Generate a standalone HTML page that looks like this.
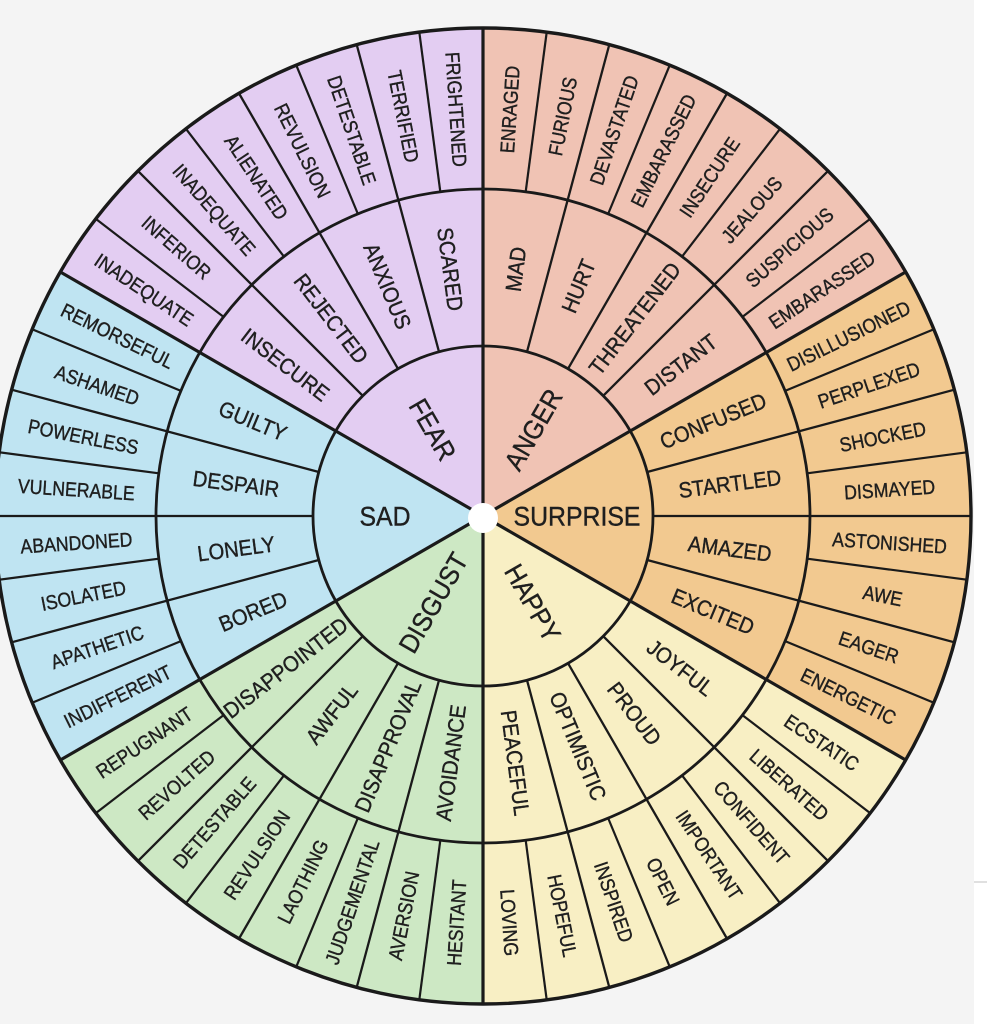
<!DOCTYPE html>
<html>
<head>
<meta charset="utf-8">
<style>
html,body{margin:0;padding:0;background:#f4f4f4;}
svg{display:block;}
text{font-family:"Liberation Sans",Arial,sans-serif;fill:#1f1f1f;stroke:#1f1f1f;stroke-width:0.4px;text-anchor:middle;}
.o{font-size:20px;}
.m{font-size:22px;}
.i{font-size:27px;}
</style>
</head>
<body>
<svg width="987" height="1024" viewBox="0 0 987 1024" xmlns="http://www.w3.org/2000/svg">
<rect width="987" height="1024" fill="#ffffff"/>
<rect width="974" height="1024" fill="#f4f4f4"/>
<line x1="974" y1="882" x2="987" y2="882" stroke="#e0e0e0" stroke-width="2"/>
<g transform="translate(483,516)">
  <path d="M0,0 L422.6,-244 A488,488 0 0 0 0,-488 Z" fill="#f0c3b4"/>
  <path d="M0,0 L0,-488 A488,488 0 0 0 -422.6,-244 Z" fill="#e3cdf2"/>
  <path d="M0,0 L-422.6,-244 A488,488 0 0 0 -422.6,244 Z" fill="#bfe4f2"/>
  <path d="M0,0 L-422.6,244 A488,488 0 0 0 0,488 Z" fill="#cde8c4"/>
  <path d="M0,0 L0,488 A488,488 0 0 0 422.6,244 Z" fill="#f8efc4"/>
  <path d="M0,0 L422.6,244 A488,488 0 0 0 422.6,-244 Z" fill="#f2c990"/>

  <g fill="none" stroke="#1a1a1a">
    <circle r="170" stroke-width="2.8"/>
    <circle r="327" stroke-width="2.8"/>
    <circle r="488" stroke-width="3.4"/>
  </g>

  <g stroke="#1a1a1a" stroke-width="3.2">
    <line x1="0" y1="0" x2="488" y2="0" transform="rotate(-30)"/>
    <line x1="0" y1="0" x2="488" y2="0" transform="rotate(-90)"/>
    <line x1="0" y1="0" x2="488" y2="0" transform="rotate(-150)"/>
    <line x1="0" y1="0" x2="488" y2="0" transform="rotate(-210)"/>
    <line x1="0" y1="0" x2="488" y2="0" transform="rotate(-270)"/>
    <line x1="0" y1="0" x2="488" y2="0" transform="rotate(-330)"/>
  </g>

  <g stroke="#1a1a1a" stroke-width="2.3">
    <line x1="170" y1="0" x2="488" y2="0" transform="rotate(-45)"/>
    <line x1="170" y1="0" x2="488" y2="0" transform="rotate(-60)"/>
    <line x1="170" y1="0" x2="488" y2="0" transform="rotate(-75)"/>
    <line x1="170" y1="0" x2="488" y2="0" transform="rotate(-105)"/>
    <line x1="170" y1="0" x2="488" y2="0" transform="rotate(-120)"/>
    <line x1="170" y1="0" x2="488" y2="0" transform="rotate(-135)"/>
    <line x1="170" y1="0" x2="488" y2="0" transform="rotate(-165)"/>
    <line x1="170" y1="0" x2="488" y2="0" transform="rotate(-180)"/>
    <line x1="170" y1="0" x2="488" y2="0" transform="rotate(-195)"/>
    <line x1="170" y1="0" x2="488" y2="0" transform="rotate(-225)"/>
    <line x1="170" y1="0" x2="488" y2="0" transform="rotate(-240)"/>
    <line x1="170" y1="0" x2="488" y2="0" transform="rotate(-255)"/>
    <line x1="170" y1="0" x2="488" y2="0" transform="rotate(-285)"/>
    <line x1="170" y1="0" x2="488" y2="0" transform="rotate(-300)"/>
    <line x1="170" y1="0" x2="488" y2="0" transform="rotate(-315)"/>
    <line x1="170" y1="0" x2="488" y2="0" transform="rotate(-345)"/>
    <line x1="170" y1="0" x2="488" y2="0" transform="rotate(0)"/>
    <line x1="170" y1="0" x2="488" y2="0" transform="rotate(-15)"/>
  </g>

  <g stroke="#1a1a1a" stroke-width="2.2">
    <line x1="327" y1="0" x2="488" y2="0" transform="rotate(-7.5)"/>
    <line x1="327" y1="0" x2="488" y2="0" transform="rotate(-22.5)"/>
    <line x1="327" y1="0" x2="488" y2="0" transform="rotate(-37.5)"/>
    <line x1="327" y1="0" x2="488" y2="0" transform="rotate(-52.5)"/>
    <line x1="327" y1="0" x2="488" y2="0" transform="rotate(-67.5)"/>
    <line x1="327" y1="0" x2="488" y2="0" transform="rotate(-82.5)"/>
    <line x1="327" y1="0" x2="488" y2="0" transform="rotate(-97.5)"/>
    <line x1="327" y1="0" x2="488" y2="0" transform="rotate(-112.5)"/>
    <line x1="327" y1="0" x2="488" y2="0" transform="rotate(-127.5)"/>
    <line x1="327" y1="0" x2="488" y2="0" transform="rotate(-142.5)"/>
    <line x1="327" y1="0" x2="488" y2="0" transform="rotate(-157.5)"/>
    <line x1="327" y1="0" x2="488" y2="0" transform="rotate(-172.5)"/>
    <line x1="327" y1="0" x2="488" y2="0" transform="rotate(-187.5)"/>
    <line x1="327" y1="0" x2="488" y2="0" transform="rotate(-202.5)"/>
    <line x1="327" y1="0" x2="488" y2="0" transform="rotate(-217.5)"/>
    <line x1="327" y1="0" x2="488" y2="0" transform="rotate(-232.5)"/>
    <line x1="327" y1="0" x2="488" y2="0" transform="rotate(-247.5)"/>
    <line x1="327" y1="0" x2="488" y2="0" transform="rotate(-262.5)"/>
    <line x1="327" y1="0" x2="488" y2="0" transform="rotate(-277.5)"/>
    <line x1="327" y1="0" x2="488" y2="0" transform="rotate(-292.5)"/>
    <line x1="327" y1="0" x2="488" y2="0" transform="rotate(-307.5)"/>
    <line x1="327" y1="0" x2="488" y2="0" transform="rotate(-322.5)"/>
    <line x1="327" y1="0" x2="488" y2="0" transform="rotate(-337.5)"/>
    <line x1="327" y1="0" x2="488" y2="0" transform="rotate(-352.5)"/>
  </g>

  <text class="o" dy="0.36em" transform="rotate(-33.75) translate(407.5,0) scale(0.885,1)">EMBARASSED</text>
  <text class="o" dy="0.36em" transform="rotate(-41.25) translate(407.5,0) scale(0.885,1)">SUSPICIOUS</text>
  <text class="o" dy="0.36em" transform="rotate(-48.75) translate(407.5,0) scale(0.885,1)">JEALOUS</text>
  <text class="o" dy="0.36em" transform="rotate(-56.25) translate(407.5,0) scale(0.885,1)">INSECURE</text>
  <text class="o" dy="0.36em" transform="rotate(-63.75) translate(407.5,0) scale(0.885,1)">EMBARASSED</text>
  <text class="o" dy="0.36em" transform="rotate(-71.25) translate(407.5,0) scale(0.885,1)">DEVASTATED</text>
  <text class="o" dy="0.36em" transform="rotate(-78.75) translate(407.5,0) scale(0.885,1)">FURIOUS</text>
  <text class="o" dy="0.36em" transform="rotate(-86.25) translate(407.5,0) scale(0.885,1)">ENRAGED</text>
  <text class="o" dy="0.36em" transform="rotate(-93.75) translate(407.5,0) rotate(180) scale(0.885,1)">FRIGHTENED</text>
  <text class="o" dy="0.36em" transform="rotate(-101.25) translate(407.5,0) rotate(180) scale(0.885,1)">TERRIFIED</text>
  <text class="o" dy="0.36em" transform="rotate(-108.75) translate(407.5,0) rotate(180) scale(0.885,1)">DETESTABLE</text>
  <text class="o" dy="0.36em" transform="rotate(-116.25) translate(407.5,0) rotate(180) scale(0.885,1)">REVULSION</text>
  <text class="o" dy="0.36em" transform="rotate(-123.75) translate(407.5,0) rotate(180) scale(0.885,1)">ALIENATED</text>
  <text class="o" dy="0.36em" transform="rotate(-131.25) translate(407.5,0) rotate(180) scale(0.885,1)">INADEQUATE</text>
  <text class="o" dy="0.36em" transform="rotate(-138.75) translate(407.5,0) rotate(180) scale(0.885,1)">INFERIOR</text>
  <text class="o" dy="0.36em" transform="rotate(-146.25) translate(407.5,0) rotate(180) scale(0.885,1)">INADEQUATE</text>
  <text class="o" dy="0.36em" transform="rotate(-153.75) translate(407.5,0) rotate(180) scale(0.885,1)">REMORSEFUL</text>
  <text class="o" dy="0.36em" transform="rotate(-161.25) translate(407.5,0) rotate(180) scale(0.885,1)">ASHAMED</text>
  <text class="o" dy="0.36em" transform="rotate(-168.75) translate(407.5,0) rotate(180) scale(0.885,1)">POWERLESS</text>
  <text class="o" dy="0.36em" transform="rotate(-176.25) translate(407.5,0) rotate(180) scale(0.885,1)">VULNERABLE</text>
  <text class="o" dy="0.36em" transform="rotate(-183.75) translate(407.5,0) rotate(180) scale(0.885,1)">ABANDONED</text>
  <text class="o" dy="0.36em" transform="rotate(-191.25) translate(407.5,0) rotate(180) scale(0.885,1)">ISOLATED</text>
  <text class="o" dy="0.36em" transform="rotate(-198.75) translate(407.5,0) rotate(180) scale(0.885,1)">APATHETIC</text>
  <text class="o" dy="0.36em" transform="rotate(-206.25) translate(407.5,0) rotate(180) scale(0.885,1)">INDIFFERENT</text>
  <text class="o" dy="0.36em" transform="rotate(-213.75) translate(407.5,0) rotate(180) scale(0.885,1)">REPUGNANT</text>
  <text class="o" dy="0.36em" transform="rotate(-221.25) translate(407.5,0) rotate(180) scale(0.885,1)">REVOLTED</text>
  <text class="o" dy="0.36em" transform="rotate(-228.75) translate(407.5,0) rotate(180) scale(0.885,1)">DETESTABLE</text>
  <text class="o" dy="0.36em" transform="rotate(-236.25) translate(407.5,0) rotate(180) scale(0.885,1)">REVULSION</text>
  <text class="o" dy="0.36em" transform="rotate(-243.75) translate(407.5,0) rotate(180) scale(0.885,1)">LAOTHING</text>
  <text class="o" dy="0.36em" transform="rotate(-251.25) translate(407.5,0) rotate(180) scale(0.885,1)">JUDGEMENTAL</text>
  <text class="o" dy="0.36em" transform="rotate(-258.75) translate(407.5,0) rotate(180) scale(0.885,1)">AVERSION</text>
  <text class="o" dy="0.36em" transform="rotate(-266.25) translate(407.5,0) rotate(180) scale(0.885,1)">HESITANT</text>
  <text class="o" dy="0.36em" transform="rotate(86.25) translate(407.5,0) scale(0.885,1)">LOVING</text>
  <text class="o" dy="0.36em" transform="rotate(78.75) translate(407.5,0) scale(0.885,1)">HOPEFUL</text>
  <text class="o" dy="0.36em" transform="rotate(71.25) translate(407.5,0) scale(0.885,1)">INSPIRED</text>
  <text class="o" dy="0.36em" transform="rotate(63.75) translate(407.5,0) scale(0.885,1)">OPEN</text>
  <text class="o" dy="0.36em" transform="rotate(56.25) translate(407.5,0) scale(0.885,1)">IMPORTANT</text>
  <text class="o" dy="0.36em" transform="rotate(48.75) translate(407.5,0) scale(0.885,1)">CONFIDENT</text>
  <text class="o" dy="0.36em" transform="rotate(41.25) translate(407.5,0) scale(0.885,1)">LIBERATED</text>
  <text class="o" dy="0.36em" transform="rotate(33.75) translate(407.5,0) scale(0.885,1)">ECSTATIC</text>
  <text class="o" dy="0.36em" transform="rotate(26.25) translate(407.5,0) scale(0.885,1)">ENERGETIC</text>
  <text class="o" dy="0.36em" transform="rotate(18.75) translate(407.5,0) scale(0.885,1)">EAGER</text>
  <text class="o" dy="0.36em" transform="rotate(11.25) translate(407.5,0) scale(0.885,1)">AWE</text>
  <text class="o" dy="0.36em" transform="rotate(3.75) translate(407.5,0) scale(0.885,1)">ASTONISHED</text>
  <text class="o" dy="0.36em" transform="rotate(-3.75) translate(407.5,0) scale(0.885,1)">DISMAYED</text>
  <text class="o" dy="0.36em" transform="rotate(-11.25) translate(407.5,0) scale(0.885,1)">SHOCKED</text>
  <text class="o" dy="0.36em" transform="rotate(-18.75) translate(407.5,0) scale(0.885,1)">PERPLEXED</text>
  <text class="o" dy="0.36em" transform="rotate(-26.25) translate(407.5,0) scale(0.885,1)">DISILLUSIONED</text>

  <text class="m" dy="0.36em" transform="rotate(-37.5) translate(249,0) scale(0.915,1)">DISTANT</text>
  <text class="m" dy="0.36em" transform="rotate(-52.5) translate(249,0) scale(0.915,1)">THREATENED</text>
  <text class="m" dy="0.36em" transform="rotate(-67.5) translate(249,0) scale(0.915,1)">HURT</text>
  <text class="m" dy="0.36em" transform="rotate(-82.5) translate(249,0) scale(0.915,1)">MAD</text>
  <text class="m" dy="0.36em" transform="rotate(-97.5) translate(249,0) rotate(180) scale(0.915,1)">SCARED</text>
  <text class="m" dy="0.36em" transform="rotate(-112.5) translate(249,0) rotate(180) scale(0.915,1)">ANXIOUS</text>
  <text class="m" dy="0.36em" transform="rotate(-127.5) translate(249,0) rotate(180) scale(0.915,1)">REJECTED</text>
  <text class="m" dy="0.36em" transform="rotate(-142.5) translate(249,0) rotate(180) scale(0.915,1)">INSECURE</text>
  <text class="m" dy="0.36em" transform="rotate(-157.5) translate(249,0) rotate(180) scale(0.915,1)">GUILTY</text>
  <text class="m" dy="0.36em" transform="rotate(-172.5) translate(249,0) rotate(180) scale(0.915,1)">DESPAIR</text>
  <text class="m" dy="0.36em" transform="rotate(-187.5) translate(249,0) rotate(180) scale(0.915,1)">LONELY</text>
  <text class="m" dy="0.36em" transform="rotate(-202.5) translate(249,0) rotate(180) scale(0.915,1)">BORED</text>
  <text class="m" dy="0.36em" transform="rotate(-217.5) translate(249,0) rotate(180) scale(0.915,1)">DISAPPOINTED</text>
  <text class="m" dy="0.36em" transform="rotate(-232.5) translate(249,0) rotate(180) scale(0.915,1)">AWFUL</text>
  <text class="m" dy="0.36em" transform="rotate(-247.5) translate(249,0) rotate(180) scale(0.915,1)">DISAPPROVAL</text>
  <text class="m" dy="0.36em" transform="rotate(-262.5) translate(249,0) rotate(180) scale(0.915,1)">AVOIDANCE</text>
  <text class="m" dy="0.36em" transform="rotate(82.5) translate(249,0) scale(0.915,1)">PEACEFUL</text>
  <text class="m" dy="0.36em" transform="rotate(67.5) translate(249,0) scale(0.915,1)">OPTIMISTIC</text>
  <text class="m" dy="0.36em" transform="rotate(52.5) translate(249,0) scale(0.915,1)">PROUD</text>
  <text class="m" dy="0.36em" transform="rotate(37.5) translate(249,0) scale(0.915,1)">JOYFUL</text>
  <text class="m" dy="0.36em" transform="rotate(22.5) translate(249,0) scale(0.915,1)">EXCITED</text>
  <text class="m" dy="0.36em" transform="rotate(7.5) translate(249,0) scale(0.915,1)">AMAZED</text>
  <text class="m" dy="0.36em" transform="rotate(-7.5) translate(249,0) scale(0.915,1)">STARTLED</text>
  <text class="m" dy="0.36em" transform="rotate(-22.5) translate(249,0) scale(0.915,1)">CONFUSED</text>

  <text class="i" dy="0.36em" transform="rotate(-60) translate(100,0) scale(0.92,1)">ANGER</text>
  <text class="i" dy="0.36em" transform="rotate(-120) translate(100,0) rotate(180) scale(0.92,1)">FEAR</text>
  <text class="i" dy="0.36em" transform="rotate(-180) translate(98,0) rotate(180) scale(0.92,1)">SAD</text>
  <text class="i" dy="0.36em" transform="rotate(-240) translate(100,0) rotate(180) scale(0.92,1)">DISGUST</text>
  <text class="i" dy="0.36em" transform="rotate(60) translate(100,0) scale(0.92,1)">HAPPY</text>
  <text class="i" dy="0.36em" transform="rotate(0) translate(94,0) scale(0.92,1)">SURPRISE</text>

  <circle cx="0" cy="2" r="15" fill="#ffffff"/>
</g>
</svg>
</body>
</html>
